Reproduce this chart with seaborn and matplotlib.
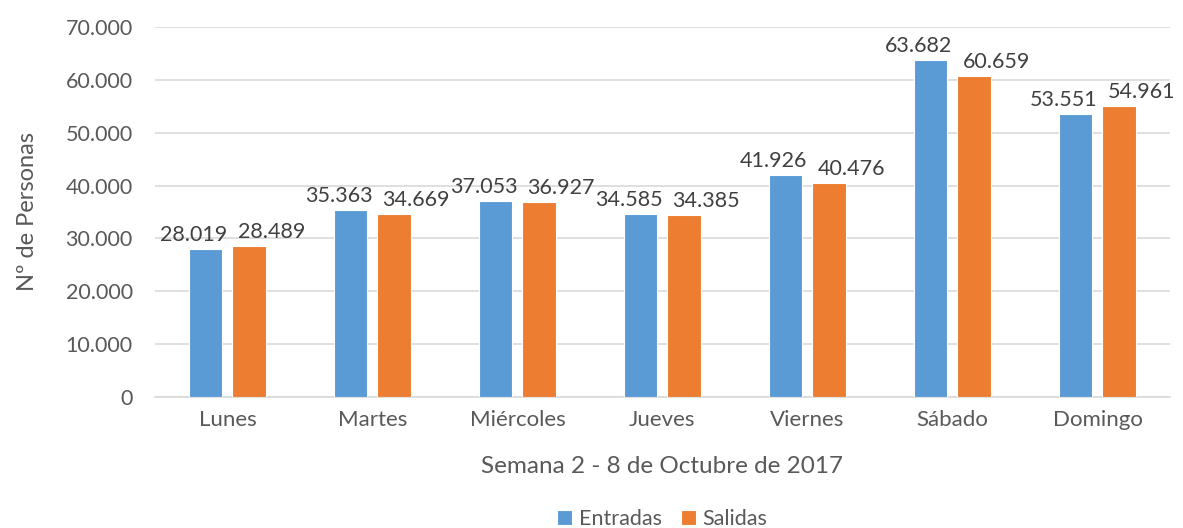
import pandas as pd
import matplotlib.pyplot as plt
import seaborn as sns

dias = ['Lunes', 'Martes', 'Miércoles', 'Jueves', 'Viernes', 'Sábado', 'Domingo']
entradas = [28019, 35363, 37053, 34585, 41926, 63682, 53551]
salidas = [28489, 34669, 36927, 34385, 40476, 60659, 54961]
series = ['Entradas', 'Salidas']
colores = ['#5B9BD5', '#ED7D31']
gris = '#595959'

df = pd.DataFrame({
    'dia': dias * 2,
    'serie': ['Entradas'] * len(dias) + ['Salidas'] * len(dias),
    'valor': entradas + salidas,
})

sns.set_style('white')
plt.rcParams['font.family'] = ['Lato', 'DejaVu Sans']

fig = plt.figure(figsize=(11.83, 5.28), dpi=100)
ax = fig.add_axes([0.131, 0.248, 0.858, 0.701])

sns.barplot(data=df, x='dia', y='valor', hue='serie', order=dias, hue_order=series,
            palette=colores, width=0.6, gap=0.23, saturation=1, ax=ax, legend=True,
            edgecolor='white', linewidth=0.8, zorder=3)

def fmt(v):
    return f'{v:,.0f}'.replace(',', '.')

# Excel-style labels: pushed apart so neighbours don't collide
desplaz = [-12, 22]
for cont, dx in zip(ax.containers, desplaz):
    for b in cont:
        ax.annotate(fmt(b.get_height()), (b.get_x() + b.get_width() / 2, b.get_height()),
                    xytext=(dx, 4), textcoords='offset pixels', ha='center', va='bottom',
                    fontsize=15.5, color='#404040')

ax.set_xlim(-0.5, 6.5)
ax.set_ylim(0, 70000)
ax.set_yticks(range(0, 70001, 10000))
ax.set_yticklabels([fmt(v) for v in range(0, 70001, 10000)])
ax.tick_params(axis='both', colors=gris, length=0)
ax.tick_params(axis='x', pad=9, labelsize=16)
ax.tick_params(axis='y', pad=16, labelsize=15.5)

for s in ['top', 'right', 'left']:
    ax.spines[s].set_visible(False)
ax.spines['bottom'].set_color('#d9d9d9')
ax.spines['bottom'].set_linewidth(1.2)
ax.grid(True, axis='y', color='#d9d9d9', linewidth=1.2, zorder=0)
ax.set_axisbelow(True)

ax.set_xlabel('Semana 2 - 8 de Octubre de 2017', fontsize=17.5, color=gris, labelpad=19)
ax.set_ylabel('Nº de Personas', fontsize=17, color=gris)
ax.yaxis.set_label_coords(-0.115, 0.5)

ax.legend(loc='lower center', bbox_to_anchor=(0.5, -0.41), ncol=2, frameon=False,
          fontsize=15.5, handlelength=0.7, handleheight=0.7, handletextpad=0.3,
          columnspacing=0.9, labelcolor=gris)

fig.savefig('out.png', dpi=100)
